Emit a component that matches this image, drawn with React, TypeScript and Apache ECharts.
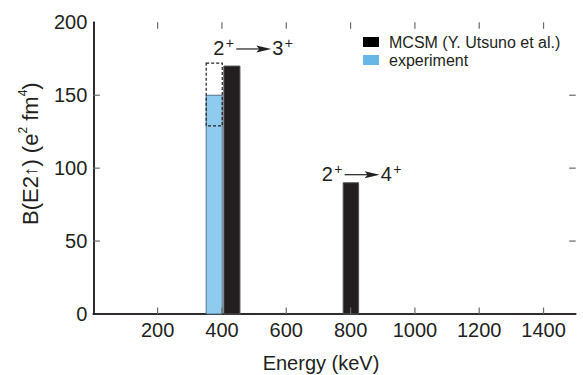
import React, { useEffect, useRef } from 'react';
import * as echarts from 'echarts';

const FONT = '"Liberation Sans", Arial, Helvetica, sans-serif';
const INK = '#231f20';
const TICK = '#6a6a6a';

// axis ranges and ticks
const xMin = 0;
const xMax = 1500;
const yMin = 0;
const yMax = 200;
const xTickValues = [200, 400, 600, 800, 1000, 1200, 1400];
const yTickValues = [50, 100, 150];

// MCSM (Y. Utsuno et al.) bars: energy span (keV) and B(E2) value
const calcStart = [406, 777];
const calcEnd = [456, 825];
const calcBE2 = [170, 90];

// experiment bar with its uncertainty box
const expStart = [351];
const expEnd = [401];
const expBE2 = [150];
const expLow = [129];
const expHigh = [172];

// transition labels: anchor in data coordinates
const transFrom = ['2', '2'];
const transTo = ['3', '4'];
const labelEnergy = [373, 710];
const labelBE2 = [177.6, 91.4];

const calcName = 'MCSM (Y. Utsuno et al.)';
const expName = 'experiment';

const barRender = (fill: string, stroke: string) => (params: any, api: any) => {
  const p0 = api.coord([api.value(0), api.value(2)]);
  const p1 = api.coord([api.value(1), 0]);
  return {
    type: 'rect',
    shape: { x: p0[0], y: p0[1], width: p1[0] - p0[0], height: p1[1] - p0[1] },
    style: { fill, stroke, lineWidth: 1 },
  };
};

export default function App() {
  const ref = useRef<HTMLDivElement>(null);
  useEffect(() => {
    if (!ref.current) return;
    const chart = echarts.init(ref.current, undefined, { renderer: 'svg' });
    const axisLine = { show: true, lineStyle: { color: INK, width: 1.5 } };
    const labelStyle = { color: INK, fontSize: 20, fontFamily: FONT };
    const TL = 6.5;
    chart.setOption({
      animation: false,
      backgroundColor: '#fff',
      grid: { left: 93.3, right: 7.3, top: 22.3, bottom: 61, containLabel: false, outerBoundsMode: 'none' },
      legend: {
        orient: 'vertical',
        left: 363,
        top: 34,
        padding: 0,
        icon: 'rect',
        itemWidth: 16,
        itemHeight: 10,
        itemGap: 2,
        textStyle: { color: INK, fontSize: 16, fontFamily: FONT, padding: [0, 0, 0, 5] },
        data: [
          { name: calcName, itemStyle: { color: '#000' } },
          { name: expName, itemStyle: { color: '#66b6e6' } },
        ],
      },
      xAxis: [
        {
          type: 'value', min: xMin, max: xMax, interval: 200, position: 'bottom',
          axisLine, axisTick: { show: false }, splitLine: { show: false },
          axisLabel: { ...labelStyle, margin: 6, formatter: (v: number) => (v === 0 || v === 1500 ? '' : String(v)) },
          name: 'Energy (keV)', nameLocation: 'middle', nameGap: 39,
          nameTextStyle: { color: INK, fontSize: 20, fontFamily: FONT, padding: [0, 27, 0, 0] },
        },
        {
          type: 'value', min: xMin, max: xMax, interval: 200, position: 'top',
          axisLine, axisTick: { show: false }, splitLine: { show: false }, axisLabel: { show: false },
        },
      ],
      yAxis: [
        {
          type: 'value', min: yMin, max: yMax, interval: 50, position: 'left',
          axisLine, axisTick: { show: false }, splitLine: { show: false },
          axisLabel: { ...labelStyle, margin: 6 },
          name: 'B(E2{a|↑}) (e{s|2} fm{s|4})', nameLocation: 'middle', nameGap: 47,
          nameTextStyle: {
            color: INK, fontSize: 22, fontFamily: FONT, padding: [0, 0, 0, 29], lineHeight: 26,
            rich: {
              a: { fontSize: 19, fontFamily: FONT, color: INK, lineHeight: 26 },
              s: { fontSize: 12, fontFamily: FONT, color: INK, verticalAlign: 'top', lineHeight: 22 },
            },
          },
        },
        {
          type: 'value', min: yMin, max: yMax, interval: 50, position: 'right',
          axisLine, axisTick: { show: false }, splitLine: { show: false }, axisLabel: { show: false },
        },
      ],
      series: [
        {
          type: 'custom', name: expName, z: 2,
          itemStyle: { color: '#66b6e6' },
          renderItem: barRender('#8ecbef', '#50708a'),
          data: expStart.map((s, i) => [s, expEnd[i], expBE2[i]]),
        },
        {
          type: 'custom', z: 3, silent: true,
          renderItem: (params: any, api: any) => {
            const p0 = api.coord([api.value(0), api.value(3)]);
            const p1 = api.coord([api.value(1), api.value(2)]);
            return {
              type: 'rect',
              shape: { x: p0[0], y: p0[1], width: p1[0] - p0[0], height: p1[1] - p0[1] },
              style: { fill: 'none', stroke: INK, lineWidth: 1.2, lineDash: [3, 2] },
            };
          },
          data: expStart.map((s, i) => [s, expEnd[i], expLow[i], expHigh[i]]),
        },
        {
          type: 'custom', name: calcName, z: 2,
          itemStyle: { color: '#000' },
          renderItem: barRender(INK, '#555'),
          data: calcStart.map((s, i) => [s, calcEnd[i], calcBE2[i]]),
        },
        // inward x ticks (bottom and top)
        {
          type: 'custom', z: 5, silent: true, clip: false,
          renderItem: (params: any, api: any) => {
            const b = api.coord([api.value(0), yMin]);
            const t = api.coord([api.value(0), yMax]);
            return {
              type: 'group',
              children: [
                { type: 'line', shape: { x1: b[0], y1: b[1], x2: b[0], y2: b[1] - TL }, style: { stroke: TICK, lineWidth: 1.2 } },
                { type: 'line', shape: { x1: t[0], y1: t[1], x2: t[0], y2: t[1] + TL }, style: { stroke: TICK, lineWidth: 1.2 } },
              ],
            };
          },
          data: xTickValues.map((v) => [v, yMin]),
        },
        // inward y ticks (left and right)
        {
          type: 'custom', z: 5, silent: true, clip: false,
          renderItem: (params: any, api: any) => {
            const l = api.coord([xMin, api.value(1)]);
            const r = api.coord([xMax, api.value(1)]);
            return {
              type: 'group',
              children: [
                { type: 'line', shape: { x1: l[0], y1: l[1], x2: l[0] + TL, y2: l[1] }, style: { stroke: TICK, lineWidth: 1.2 } },
                { type: 'line', shape: { x1: r[0], y1: r[1], x2: r[0] - TL, y2: r[1] }, style: { stroke: TICK, lineWidth: 1.2 } },
              ],
            };
          },
          data: yTickValues.map((v) => [xMin, v]),
        },
        {
          type: 'custom', z: 4, silent: true,
          renderItem: (params: any, api: any) => {
            const i = params.dataIndex;
            const p = api.coord([api.value(0), api.value(1)]);
            const bx = p[0];
            const by = p[1];
            const big = { fontSize: 20, fontFamily: FONT, fill: INK, align: 'left', verticalAlign: 'middle' };
            const sup = { fontSize: 14, fontFamily: FONT, fill: INK, align: 'left', verticalAlign: 'middle' };
            return {
              type: 'group',
              children: [
                { type: 'text', style: { ...big, text: transFrom[i], x: bx, y: by - 7 } },
                { type: 'text', style: { ...sup, text: '+', x: bx + 12.5, y: by - 11.5 } },
                { type: 'line', shape: { x1: bx + 23, y1: by - 6, x2: bx + 50, y2: by - 6 }, style: { stroke: INK, lineWidth: 1.2 } },
                {
                  type: 'polygon',
                  shape: { points: [[bx + 43, by - 9.5], [bx + 58, by - 6], [bx + 43, by - 2.5], [bx + 46, by - 6]] },
                  style: { fill: INK },
                },
                { type: 'text', style: { ...big, text: transTo[i], x: bx + 59, y: by - 7 } },
                { type: 'text', style: { ...sup, text: '+', x: bx + 71.5, y: by - 11.5 } },
              ],
            };
          },
          data: labelEnergy.map((e, i) => [e, labelBE2[i]]),
        },
      ],
    });
    return () => chart.dispose();
  }, []);
  return <div ref={ref} style={{ position: 'fixed', left: 0, top: 0, width: 583, height: 375 }} />;
}
